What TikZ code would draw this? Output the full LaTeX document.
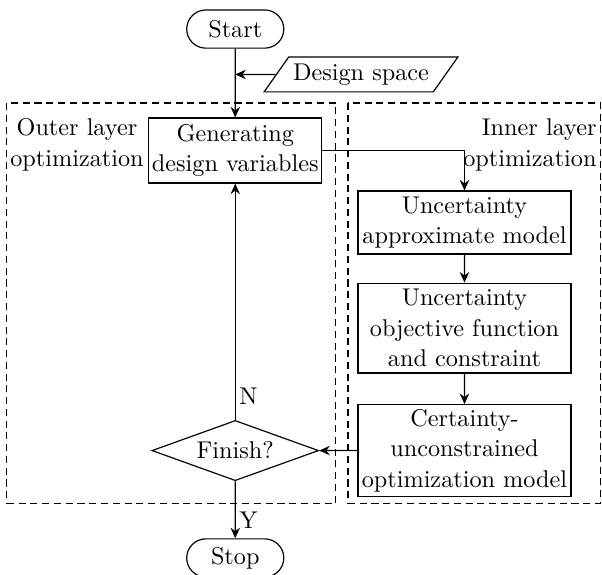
\documentclass[tikz,border=0pt]{standalone}
\usepackage{tikz}
\usetikzlibrary{shapes.geometric,shapes.misc,arrows.meta}

\begin{document}
\begin{tikzpicture}[scale=0.2, font=\fontsize{10.3pt}{13pt}\selectfont]
		\tikzstyle{every node}+=[inner sep=0pt]
		\tikzstyle{terminal}=[draw, line width=0.5pt, rounded rectangle, minimum width=1.45cm, minimum height=0.57cm]
		\tikzstyle{process}=[draw, line width=0.5pt, rectangle, align=center, minimum width=3.18cm]
		\tikzstyle{flow}=[line width=0.5pt, -{Stealth[length=4.5pt, width=4pt, inset=1.5pt]}]
		\tikzstyle{layer}=[line width=0.45pt, dash pattern=on 3pt off 2pt]
		\useasboundingbox (0,0) rectangle (44.96,-42.94);
		% layers
		\draw [layer] (0.52,-7.69) rectangle (25.09,-37.57);
		\draw [layer] (25.99,-7.69) rectangle (44.88,-37.57);
		\node [align=center] (outerlbl) at (5.75,-10.83) {Outer layer\\optimization};
		\node [align=right, anchor=east] (innerlbl) at (44.59,-10.83) {Inner layer\\optimization};
		% outer loop
		\node [terminal] (start) at (17.57,-2.17) {Start};
		\node [draw, line width=0.5pt, trapezium, trapezium left angle=43, trapezium right angle=137, trapezium stretches=true, minimum width=2.9cm, minimum height=0.52cm] (design) at (26.96,-5.56) {Design space};
		\node [process, minimum width=2.58cm, minimum height=0.97cm] (gen) at (17.57,-11.24) {Generating\\design variables};
		\node [draw, line width=0.5pt, diamond, aspect=2.8, minimum width=2.49cm, minimum height=0.9cm] (finish) at (17.57,-33.65) {Finish?};
		\node [terminal] (stop) at (17.57,-41.67) {Stop};
		% inner loop
		\node [process, minimum height=0.94cm] (unc1) at (34.69,-16.62) {Uncertainty\\approximate model};
		\node [process, minimum height=1.34cm] (unc2) at (34.69,-24.50) {Uncertainty\\objective function\\and constraint};
		\node [process, minimum height=1.37cm] (cert) at (34.69,-33.65) {Certainty-\\unconstrained\\optimization model};
		% connectors
		\draw [flow] (start) -- (gen);
		\draw [flow] (design) -- (design -| start);
		\draw [flow] (gen.east) -| (unc1);
		\draw [flow] (unc1) -- (unc2);
		\draw [flow] (unc2) -- (cert);
		\draw [flow] (cert) -- (finish);
		\draw [flow] (finish) -- node [pos=0.1, right=1.5pt] {N} (gen);
		\draw [flow] (finish) -- node [pos=0.68, right=1.5pt] {Y} (stop);
	\end{tikzpicture}
\end{document}
